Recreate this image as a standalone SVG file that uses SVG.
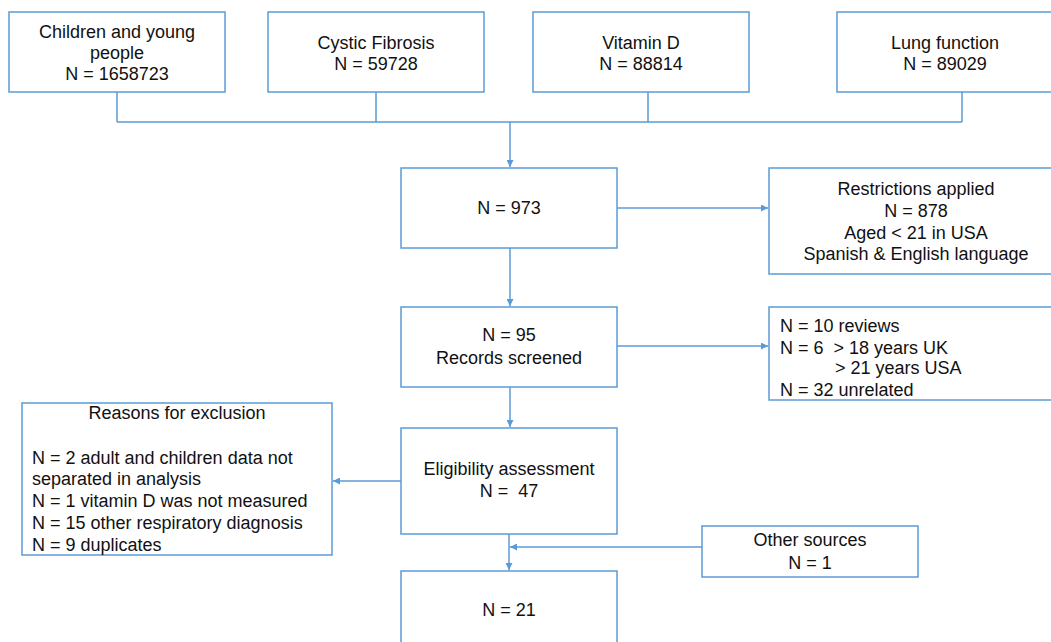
<svg xmlns="http://www.w3.org/2000/svg" width="1051" height="642" viewBox="0 0 1051 642">
<style>
.box{fill:#fff;stroke:#5b9bd5;stroke-width:1.5}
.ln{fill:none;stroke:#5b9bd5;stroke-width:1.5}
text{font-family:"Liberation Sans",Arial,sans-serif;font-size:18px;fill:#111;white-space:pre}
.c{text-anchor:middle}
</style>
<defs>
<marker id="ah" viewBox="0 0 10 10" refX="10" refY="5" markerWidth="7" markerHeight="7" markerUnits="userSpaceOnUse" orient="auto">
<path d="M0,0 L10,5 L0,10 z" fill="#5b9bd5"/>
</marker>
</defs>
<rect width="1051" height="642" fill="#fff"/>
<g id="connectors">
<path class="ln" d="M117,92 V122 M376,92 V122 M648,92 V122 M962,92 V122 M117,122 H962"/>
<path class="ln" d="M510,122 V167" marker-end="url(#ah)"/>
<path class="ln" d="M617,208 H768" marker-end="url(#ah)"/>
<path class="ln" d="M510,248 V306" marker-end="url(#ah)"/>
<path class="ln" d="M617,346 H768" marker-end="url(#ah)"/>
<path class="ln" d="M510,387 V427" marker-end="url(#ah)"/>
<path class="ln" d="M401,481 H333" marker-end="url(#ah)"/>
<path class="ln" d="M509,534 V570" marker-end="url(#ah)"/>
<path class="ln" d="M702,547 H510" marker-end="url(#ah)"/>
</g>
<g id="n1"><rect class="box" x="9" y="12" width="216" height="80"/>
<text class="c" x="117" y="38">Children and young</text><text class="c" x="117" y="59">people</text><text class="c" x="117" y="80">N = 1658723</text></g>
<g id="n2"><rect class="box" x="268" y="12" width="216" height="80"/>
<text class="c" x="376" y="49">Cystic Fibrosis</text><text class="c" x="376" y="70">N = 59728</text></g>
<g id="n3"><rect class="box" x="533" y="12" width="216" height="80"/>
<text class="c" x="641" y="49">Vitamin D</text><text class="c" x="641" y="70">N = 88814</text></g>
<g id="n4"><rect class="box" x="837" y="12" width="216" height="80"/>
<text class="c" x="945" y="49">Lung function</text><text class="c" x="945" y="70">N = 89029</text></g>
<g id="n973"><rect class="box" x="401" y="168" width="216" height="80"/>
<text class="c" x="509" y="214">N = 973</text></g>
<g id="restrictions"><rect class="box" x="769" y="168" width="294" height="106"/>
<text class="c" x="916" y="195">Restrictions applied</text><text class="c" x="916" y="217">N = 878</text><text class="c" x="916" y="239">Aged &lt; 21 in USA</text><text class="c" x="916" y="260">Spanish &amp; English language</text></g>
<g id="n95"><rect class="box" x="401" y="307" width="216" height="80"/>
<text class="c" x="509" y="341">N = 95</text><text class="c" x="509" y="364">Records screened</text></g>
<g id="excl1"><rect class="box" x="769" y="307" width="294" height="93"/>
<text x="780" y="332">N = 10 reviews</text><text x="780" y="354" xml:space="preserve">N = 6  &gt; 18 years UK</text><text x="835" y="374">&gt; 21 years USA</text><text x="780" y="396">N = 32 unrelated</text></g>
<g id="reasons"><rect class="box" x="22" y="403" width="310" height="152"/>
<text class="c" x="177" y="419">Reasons for exclusion</text>
<text x="32" y="464">N = 2 adult and children data not</text><text x="32" y="485">separated in analysis</text><text x="32" y="507">N = 1 vitamin D was not measured</text><text x="32" y="529">N = 15 other respiratory diagnosis</text><text x="32" y="551">N = 9 duplicates</text></g>
<g id="eligibility"><rect class="box" x="401" y="428" width="216" height="106"/>
<text class="c" x="509" y="475">Eligibility assessment</text><text class="c" x="509" y="497" xml:space="preserve">N =  47</text></g>
<g id="other"><rect class="box" x="702" y="526" width="216" height="51"/>
<text class="c" x="810" y="546">Other sources</text><text class="c" x="810" y="569">N = 1</text></g>
<g id="n21"><rect class="box" x="401" y="571" width="216" height="90"/>
<text class="c" x="509" y="616">N = 21</text></g>
</svg>
